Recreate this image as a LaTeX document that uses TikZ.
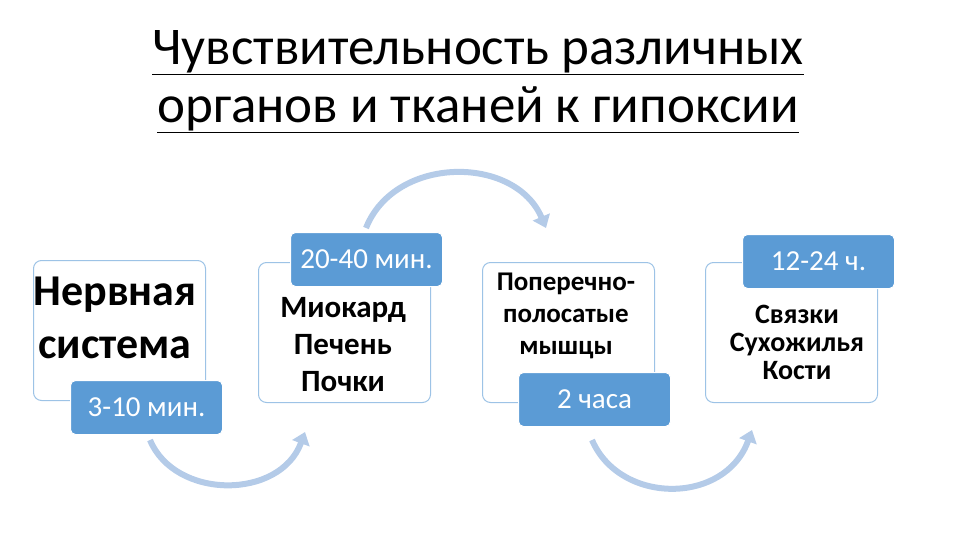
\documentclass[tikz,border=0pt]{standalone}
\usepackage{fontspec}
\setmainfont{Carlito}
\usetikzlibrary{arrows.meta}
\definecolor{lblue}{HTML}{5B9BD5}
\definecolor{bord}{HTML}{9DC3E6}
\definecolor{arcc}{HTML}{B4CBE8}
\tikzset{
 card/.style={draw=bord,line width=1pt,fill=white,rounded corners=8pt,minimum width=172pt,minimum height=140pt,anchor=north west},
 tag/.style={fill=lblue,draw=white,line width=1pt,rounded corners=5pt,minimum width=152pt,minimum height=54pt,anchor=north west,text=white,font=\fontsize{29}{30}\selectfont},
 body/.style={align=center,text=black},
 arcarrow/.style={draw=arcc,line width=6pt,-{Triangle[length=12pt,width=18pt]}}
}
\begin{document}
\begin{tikzpicture}[x=1pt,y=-1pt]
\useasboundingbox (0,0) rectangle (960,540);
\node[align=center,font=\fontsize{53}{58}\selectfont] (title) at (478,82)
 {\underline{Чувствительность различных}\\\underline{органов и тканей к гипоксии}};
\node[card] (b1) at (33,260) {};
\node[card] (b2) at (258,262) {};
\node[card] (b3) at (482,262) {};
\node[card] (b4) at (705,262) {};
\node[body,font=\bfseries\fontsize{44}{53}\selectfont] (t1) at (115,318) {Нервная\\система};
\node[body,font=\bfseries\fontsize{31}{37}\selectfont] (t2) at (343,345) {Миокард\\Печень\\Почки};
\node[body,font=\bfseries\fontsize{27}{32}\selectfont] (t3) at (566,316) {Поперечно-\\полосатые\\мышцы};
\node[body,font=\bfseries\fontsize{28}{28}\selectfont] (t4) at (797,342) {Связки\\Сухожилья\\Кости};
\node[tag] (l1) at (70,380) {3-10 мин.};
\node[tag] (l2) at (290,232) {20-40 мин.};
\node[tag] (l3) at (518,372) {2 часа};
\node[tag] (l4) at (742,234) {12-24 ч.};
\coordinate (a1s) at (150,440); \coordinate (a1e) at (305,432);
\coordinate (a2s) at (366,228); \coordinate (a2e) at (546,228);
\coordinate (a3s) at (592,440); \coordinate (a3e) at (752,430);
\draw[arcarrow] (a1s) .. controls (175,500) and (280,500) .. (a1e);
\draw[arcarrow] (a2s) .. controls (395,155) and (515,155) .. (a2e);
\draw[arcarrow] (a3s) .. controls (620,505) and (725,505) .. (a3e);
\end{tikzpicture}
\end{document}
